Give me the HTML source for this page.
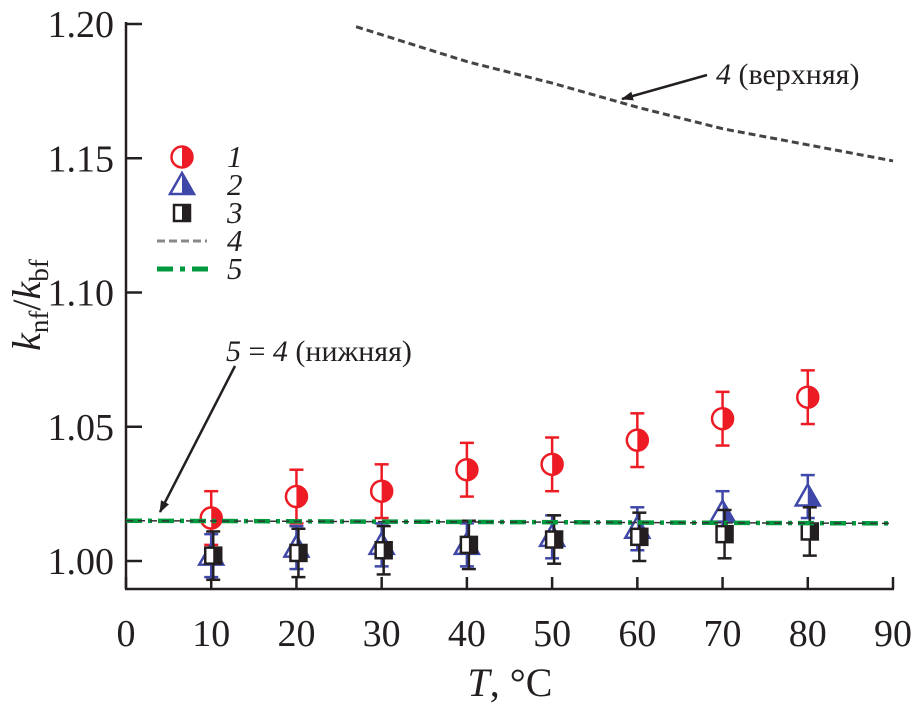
<!DOCTYPE html>
<html><head><meta charset="utf-8"><style>
body{margin:0;background:#fff;}
svg, svg text{font-family:"Liberation Serif","DejaVu Serif",serif;}
svg text{fill:#231f20;}
</style></head><body>
<svg id="chart" width="917" height="705" xmlns="http://www.w3.org/2000/svg" font-family="Liberation Serif, DejaVu Serif, serif">
<defs>
<marker id="ah" markerWidth="12" markerHeight="9" refX="11" refY="4.5" orient="auto" markerUnits="userSpaceOnUse"><path d="M0,0 L12,4.5 L0,9 Z" fill="#231f20"/></marker>
</defs>
<g id="axes"></g>
<g id="marks"></g>
<g id="legend"></g>
<g>
<line x1="707" y1="75" x2="622" y2="99" stroke="#231f20" stroke-width="2.5" marker-end="url(#ah)"/>
<text x="716" y="84" font-size="30" font-family="Liberation Serif, DejaVu Serif, serif"><tspan font-style="italic">4</tspan> (верхняя)</text>
</g>
<g>
<line x1="235" y1="366" x2="160" y2="512" stroke="#231f20" stroke-width="2.5" marker-end="url(#ah)"/>
<text x="226" y="361" font-size="30" font-family="Liberation Serif, DejaVu Serif, serif"><tspan font-style="italic">5</tspan> = <tspan font-style="italic">4</tspan> (нижняя)</text>
</g>
</svg>
<script>
const T = [10,20,30,40,50,60,70,80];
const s1 = [1.016,1.024,1.026,1.034,1.036,1.045,1.053,1.061];
const s2 = [1.002,1.005,1.006,1.006,1.009,1.012,1.018,1.024];
const s3 = [1.002,1.003,1.004,1.006,1.008,1.009,1.010,1.011];
const e1 = [0.010,0.010,0.010,0.010,0.010,0.010,0.010,0.010];
const e2 = [0.008,0.008,0.008,0.008,0.008,0.008,0.008,0.008];
const e3 = [0.009,0.009,0.009,0.009,0.009,0.009,0.009,0.009];
const upT = [27,30,40,50,60,70,80,90];
const upV = [1.199,1.196,1.186,1.178,1.169,1.161,1.155,1.149];
const lowT = [0,90];
const lowV = [1.015,1.014];
const xTicks = [0,10,20,30,40,50,60,70,80,90];
const yTicks = [1.00,1.05,1.10,1.15,1.20];
const yTickLabels = ["1.00","1.05","1.10","1.15","1.20"];

const NS="http://www.w3.org/2000/svg";
const FF="Liberation Serif, DejaVu Serif, serif";
const X=v=>126+(v-0)*(893-126)/90;
const Y=v=>561-(v-1.0)*(561-24)/0.2;
function mk(tag,attrs,parent){const e=document.createElementNS(NS,tag);for(const k in attrs)e.setAttribute(k,attrs[k]);if(tag==='text')e.setAttribute('font-family',FF);parent.appendChild(e);return e;}
const ax=document.getElementById('axes'),mg=document.getElementById('marks'),lg=document.getElementById('legend');
let a=mk('line',{x1:126,y1:22,x2:126,y2:589,stroke:'#231f20','stroke-width':2.5},ax);


a=mk('line',{x1:125,y1:589,x2:894,y2:589,stroke:'#231f20','stroke-width':2.5},ax);


xTicks.forEach(t=>{
 const l=mk('line',{x1:X(t),y1:589,x2:X(t),y2:577,stroke:'#231f20','stroke-width':2.5},ax);
 
 
 const tx=mk('text',{x:X(t),y:646,'font-size':38,'text-anchor':'middle'},ax);tx.textContent=t;
 
 
});
yTicks.forEach((t,i)=>{
 const l=mk('line',{x1:126,y1:Y(t),x2:142,y2:Y(t),stroke:'#231f20','stroke-width':2.5},ax);
 
 
 const tx=mk('text',{x:114,y:Y(t)+13,'font-size':38,'text-anchor':'end'},ax);tx.textContent=yTickLabels[i];
 
 
});
let xt=mk('text',{x:510,y:696,'font-size':40,'text-anchor':'middle'},ax);
xt.innerHTML='<tspan font-style="italic">T</tspan>, °C';


let yt=mk('text',{x:0,y:0,'font-size':40,'text-anchor':'middle',transform:'translate(40,305) rotate(-90)'},ax);
yt.innerHTML='<tspan font-style="italic">k</tspan><tspan font-size="27" dy="8">nf</tspan><tspan dy="-8">/</tspan><tspan font-style="italic">k</tspan><tspan font-size="27" dy="8">bf</tspan>';



function line(ts,vs,attrs,name){
 const p=mk('polyline',Object.assign({points:ts.map((t,i)=>X(t)+','+Y(vs[i])).join(' '),fill:'none'},attrs),mg);
 
 
}
function marker(g,kind,cx,cy,col){
 if(kind==='c'){
  mk('circle',{cx,cy,r:10.5,fill:'#fff',stroke:col,'stroke-width':2.5},g);
  mk('path',{d:`M${cx},${cy-10.5} A10.5,10.5 0 0 1 ${cx},${cy+10.5} Z`,fill:col},g);
 }else if(kind==='t'){
  mk('path',{d:`M${cx},${cy-12} L${cx+12},${cy+9} L${cx-12},${cy+9} Z`,fill:'#fff',stroke:col,'stroke-width':2.5},g);
  mk('path',{d:`M${cx},${cy-12} L${cx+12},${cy+9} L${cx},${cy+9} Z`,fill:col},g);
 }else{
  mk('rect',{x:cx-8,y:cy-8,width:16,height:16,fill:'#fff',stroke:col,'stroke-width':2.5},g);
  mk('rect',{x:cx,y:cy-8,width:8,height:16,fill:col},g);
 }
}
function series(vals,errs,kind,col,dx,name){
 T.forEach((t,i)=>{
  const g=mk('g',{},mg);
  
  
  const cx=X(t)+dx,cy=Y(vals[i]),y1=Y(vals[i]+errs[i]),y2=Y(vals[i]-errs[i]);
  mk('line',{x1:cx,y1:y1,x2:cx,y2:y2,stroke:col,'stroke-width':2.5},g);
  mk('line',{x1:cx-7,y1:y1,x2:cx+7,y2:y1,stroke:col,'stroke-width':2.5},g);
  mk('line',{x1:cx-7,y1:y2,x2:cx+7,y2:y2,stroke:col,'stroke-width':2.5},g);
  marker(g,kind,cx,cy,col);
 });
}
series(s1,e1,'c','#ed1c24',0,'series-1');
series(s2,e2,'t','#3f48a8',0,'series-2');
series(s3,e3,'s','#231f20',2,'series-3');
line(upT,upV,{stroke:'#444','stroke-width':3,'stroke-dasharray':'7,4'},'line-4-upper');
line(lowT,lowV,{stroke:'#009a3e','stroke-width':4.5,'stroke-dasharray':'16,6,4,6'},'line-5');
line(lowT,lowV,{stroke:'#333','stroke-width':1.5,'stroke-dasharray':'7,5'},'line-4-lower');

const items=[['1','c','#ed1c24'],['2','t','#3f48a8'],['3','s','#231f20'],['4','d4','#888'],['5','d5','#009a3e']];
items.forEach((it,i)=>{
 const y=157+i*28;
 const g=mk('g',{},lg);
 
 
 if(it[1]==='d4') mk('line',{x1:157,y1:y,x2:207,y2:y,stroke:it[2],'stroke-width':3,'stroke-dasharray':'8,4'},g);
 else if(it[1]==='d5') mk('line',{x1:157,y1:y,x2:210,y2:y,stroke:it[2],'stroke-width':5,'stroke-dasharray':'16,7,5,7'},g);
 else marker(g,it[1],182,y,it[2]);
 const tx=mk('text',{x:227,y:y+10,'font-size':31,'font-style':'italic'},g);tx.textContent=it[0];
});
</script>
</body></html>
